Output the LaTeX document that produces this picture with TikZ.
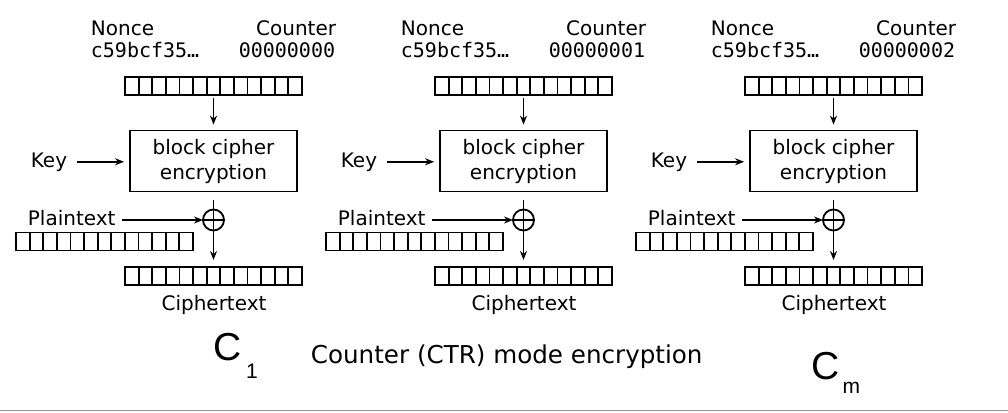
\documentclass[tikz,border=0pt]{standalone}
\usepackage{fontspec}
\setmainfont{DejaVu Sans}
\setmonofont{DejaVu Sans Mono}
\newfontfamily\helv{Liberation Sans}
\usetikzlibrary{arrows.meta}

\begin{document}
\begin{tikzpicture}[x=1pt,y=-1pt,line width=1.8pt,
  txt/.style={font=\fontsize{20}{25}\selectfont,inner sep=0pt},
  hex/.style={font=\fontsize{20}{25}\selectfont\ttfamily,inner sep=0pt},
  reg/.style={draw,minimum width=177pt,minimum height=18pt,inner sep=0pt,outer sep=0pt},
  encbox/.style={draw,minimum width=167pt,minimum height=61pt,align=center,inner sep=0pt,font=\fontsize{20}{25}\selectfont},
  xorc/.style={draw,circle,minimum size=21pt,inner sep=0pt,outer sep=0pt},
  arr/.style={-{Stealth[length=9pt,width=7pt]}}]
\useasboundingbox (0,0) rectangle (1008,412);
\draw [gray!85,line width=1.6pt] (0,410.5) -- (1008,410.5);

% one column per counter block
\foreach \o/\c/\p in {0/00000000/a,310/00000001/b,620/00000002/c}{
  \node [txt,anchor=base west] (nonce\p) at ({\o+90},36) {Nonce};
  \node [txt,anchor=base east] (count\p) at ({\o+337},36) {Counter};
  \node [hex,anchor=base west] (nv\p) at ({\o+90},58) {c59bcf35…};
  \node [hex,anchor=base east] (cv\p) at ({\o+336},58) {\c};
  \node [reg] (top\p) at ({\o+213.5},86) {};
  \node [encbox] (enc\p) at ({\o+213.5},161) {block cipher\\encryption};
  \node [txt,anchor=base east] (key\p) at ({\o+68},167) {Key};
  \node [xorc] (x\p) at ({\o+213.5},220) {};
  \node [txt,anchor=base west] (plain\p) at ({\o+27},225) {Plaintext};
  \node [reg] (pt\p) at ({\o+104.5},241.5) {};
  \node [reg] (ct\p) at ({\o+213.5},276) {};
  \node [txt,anchor=base] (ctl\p) at ({\o+214},310) {Ciphertext};
  % register cells
  \foreach \r in {top\p,pt\p,ct\p}
    \foreach \k in {1,...,12}
      \draw ([xshift=\k*177/13]\r.south west) -- ([xshift=\k*177/13]\r.north west);
  \draw [arr,shorten <=3pt,shorten >=5pt] (top\p.south) -- (enc\p.north);
  \draw [arr,shorten <=9pt,shorten >=5pt] (key\p.east) -- (key\p.east -| enc\p.west);
  \draw [arr,shorten <=8pt,shorten >=7pt] (enc\p.south) -- (ct\p.north);
  \draw (x\p.west) -- (x\p.east);
  \draw [arr,shorten <=6pt] (plain\p.east |- x\p.west) -- (x\p.west);
}

\node [inner sep=0pt,anchor=base west] (c1) at (213,360) {\helv\fontsize{39}{39}\selectfont C\hspace{4pt}\raisebox{-18pt}{\fontsize{21}{21}\selectfont 1}};
\node [inner sep=0pt,anchor=base west] (title) at (310,363) {\fontsize{24.6}{30}\selectfont Counter (CTR) mode encryption};
\node [inner sep=0pt,anchor=base west] (cm) at (811,379) {\helv\fontsize{39}{39}\selectfont C\hspace{2.5pt}\raisebox{-14pt}{\fontsize{21}{21}\selectfont m}};
\end{tikzpicture}
\end{document}
